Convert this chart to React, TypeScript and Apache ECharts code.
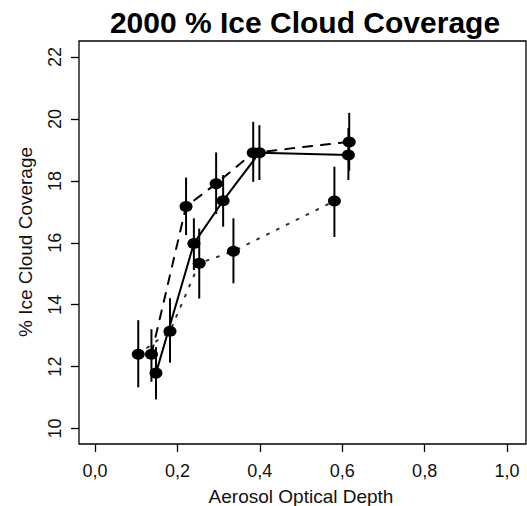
import React, { useEffect, useRef } from "react";
import * as echarts from "echarts";

// Three AOD groupings of ice cloud coverage, each with ±1 error ranges
const aodDotted = [0.105, 0.182, 0.253, 0.336, 0.581];
const iceDotted = [12.4, 13.14, 15.34, 15.73, 17.35];
const lowDotted = [11.33, 12.13, 14.2, 14.69, 16.19];
const highDotted = [13.5, 14.21, 16.46, 16.79, 18.46];

const aodDashed = [0.137, 0.221, 0.294, 0.384, 0.617];
const iceDashed = [12.4, 17.17, 17.91, 18.91, 19.26];
const lowDashed = [11.51, 16.25, 16.93, 17.97, 18.33];
const highDashed = [13.21, 18.11, 18.92, 19.91, 20.2];

const aodSolid = [0.148, 0.24, 0.311, 0.399, 0.615];
const iceSolid = [11.79, 15.98, 17.36, 18.91, 18.84];
const lowSolid = [10.94, 15.12, 16.52, 18.03, 18.03];
const highSolid = [12.63, 16.79, 18.19, 19.8, 19.71];

const xTicks = [0, 0.2, 0.4, 0.6, 0.8, 1.0];
const yTicks = [10, 12, 14, 16, 18, 20, 22];

const titleText = "2000 % Ice Cloud Coverage";
const xTitle = "Aerosol Optical Depth";
const yTitle = "% Ice Cloud Coverage";

const zip = (xs: number[], ys: number[]) => xs.map((x, i) => [x, ys[i]]);
const zipBars = (xs: number[], lo: number[], hi: number[]) =>
  xs.map((x, i) => [x, lo[i], hi[i]]);

function lineSeries(name: string, xs: number[], ys: number[], color: string, dash: any, width: number) {
  return {
    name,
    type: "line",
    data: zip(xs, ys),
    symbol: "circle",
    symbolSize: [13, 11],
    itemStyle: { color: "#000" },
    lineStyle: { color, width, type: dash, cap: "round" },
    z: 3,
  };
}

function barSeries(name: string, xs: number[], lo: number[], hi: number[]) {
  return {
    name,
    type: "custom",
    data: zipBars(xs, lo, hi),
    renderItem: (params: any, api: any) => {
      const p1 = api.coord([api.value(0), api.value(1)]);
      const p2 = api.coord([api.value(0), api.value(2)]);
      return {
        type: "line",
        shape: { x1: p1[0], y1: p1[1], x2: p2[0], y2: p2[1] },
        style: { stroke: "#000", lineWidth: 2 },
      };
    },
    z: 4,
  };
}

export default function App() {
  const ref = useRef<HTMLDivElement>(null);
  useEffect(() => {
    if (!ref.current) return;
    const chart = echarts.init(ref.current, null, { renderer: "svg" });
    chart.setOption({
      animation: false,
      backgroundColor: "#fff",
      grid: {
        left: 79,
        top: 41,
        right: 1,
        bottom: 62,
        show: true,
        borderColor: "#000",
        borderWidth: 1.3,
        containLabel: false,
      },
      xAxis: {
        type: "value",
        min: -0.0388,
        max: 1.046,
        axisLine: { show: false, onZero: false },
        splitLine: { show: false },
        axisTick: {
          show: true,
          customValues: xTicks,
          length: 8,
          inside: false,
          lineStyle: { color: "#000", width: 1.3 },
        },
        axisLabel: {
          customValues: xTicks,
          formatter: (v: number) => v.toFixed(1).replace(".", ","),
          fontFamily: "Liberation Sans",
          fontSize: 18,
          color: "#111",
          margin: 18,
        },
      },
      yAxis: {
        type: "value",
        min: 9.5,
        max: 22.52,
        axisLine: { show: false, onZero: false },
        splitLine: { show: false },
        axisTick: {
          show: true,
          customValues: yTicks,
          length: 8,
          inside: false,
          lineStyle: { color: "#000", width: 1.3 },
        },
        axisLabel: {
          customValues: yTicks,
          rotate: 90,
          fontFamily: "Liberation Sans",
          fontSize: 18,
          color: "#111",
          margin: 15,
        },
      },
      graphic: [
        {
          type: "text",
          x: 305,
          y: 22,
          style: {
            text: titleText,
            fontFamily: "Liberation Sans",
            fontWeight: "bold",
            fontSize: 30,
            fill: "#000",
            textAlign: "center",
            textVerticalAlign: "middle",
          },
        },
        {
          type: "text",
          x: 301,
          y: 496,
          style: {
            text: xTitle,
            fontFamily: "Liberation Sans",
            fontSize: 19,
            fill: "#111",
            textAlign: "center",
            textVerticalAlign: "middle",
          },
        },
        {
          type: "text",
          x: 25,
          y: 242,
          rotation: Math.PI / 2,
          style: {
            text: yTitle,
            fontFamily: "Liberation Sans",
            fontSize: 19,
            fill: "#111",
            textAlign: "center",
            textVerticalAlign: "middle",
          },
        },
      ],
      series: [
        lineSeries("dotted", aodDotted, iceDotted, "#333", [2, 9], 2),
        lineSeries("dashed", aodDashed, iceDashed, "#000", [9, 9], 2),
        lineSeries("solid", aodSolid, iceSolid, "#000", "solid", 2),
        barSeries("dottedBars", aodDotted, lowDotted, highDotted),
        barSeries("dashedBars", aodDashed, lowDashed, highDashed),
        barSeries("solidBars", aodSolid, lowSolid, highSolid),
      ],
    });
    return () => chart.dispose();
  }, []);
  return (
    <div
      ref={ref}
      style={{ position: "fixed", left: 0, top: 0, width: 527, height: 506 }}
    />
  );
}
